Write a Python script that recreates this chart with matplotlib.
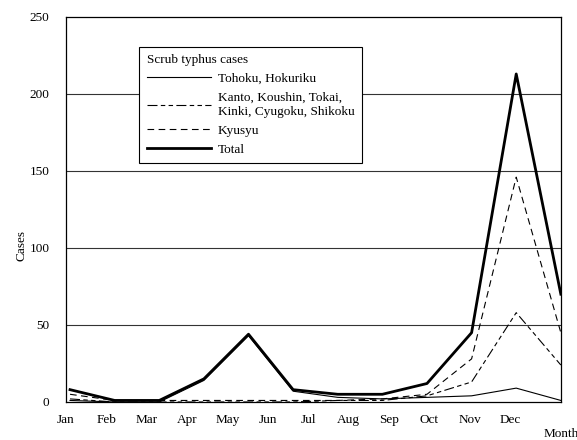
import numpy as np
import matplotlib
matplotlib.use("Agg")
import matplotlib.pyplot as plt

plt.rcParams['font.family'] = ['Liberation Serif', 'DejaVu Serif']
plt.rcParams['font.size'] = 9.5

months = ["Jan", "Feb", "Mar", "Apr", "May", "Jun",
          "Jul", "Aug", "Sep", "Oct", "Nov", "Dec"]

# monthly cases by region
tohoku = [1, 0, 0, 14, 43, 7, 3, 2, 3, 4, 9, 1]
kanto = [2, 0, 0, 0, 0, 0, 1, 1, 4, 13, 58, 24]
kyusyu = [5, 1, 1, 1, 1, 1, 1, 2, 5, 28, 146, 45]
total = [8, 1, 1, 15, 44, 8, 5, 5, 12, 45, 213, 70]

x = np.arange(len(months))

fig = plt.figure(figsize=(5.77, 4.40), dpi=100)
ax = fig.add_axes([0.1144, 0.0864, 0.8576, 0.875])

for yv in [50, 100, 150, 200]:
    ax.axhline(yv, color='#333333', lw=0.8, zorder=1)

ax.plot(x, tohoku, color='black', lw=0.8, label='Tohoku, Hokuriku', zorder=3)
ax.plot(x, kanto, color='black', lw=0.8, dashes=(9, 3, 4, 3, 4, 3),
        label='Kanto, Koushin, Tokai,\nKinki, Cyugoku, Shikoku', zorder=3)
ax.plot(x, kyusyu, color='black', lw=0.8, dashes=(6, 4), label='Kyusyu', zorder=3)
ax.plot(x, total, color='black', lw=2.0, label='Total', zorder=4)

ax.set_xlim(0, 11)
ax.set_ylim(0, 250)
ax.set_yticks([0, 50, 100, 150, 200, 250])
ax.tick_params(axis='y', length=0, pad=12)

# month labels sit on their own spacing under the axis
ax.set_xticks(np.arange(12) * 0.905 - 0.09)
ax.set_xticklabels(months)
ax.tick_params(axis='x', length=0, pad=9)

for s in ax.spines.values():
    s.set_color('black')
    s.set_linewidth(0.9)

fig.text(0.038, 0.443, 'Cases', rotation=90, ha='center', va='center')
fig.text(0.972, 0.0, 'Month', ha='center', va='bottom')

leg = ax.legend(title='Scrub typhus cases', loc='upper left',
                bbox_to_anchor=(0.148, 0.922), borderaxespad=0,
                handlelength=4.9, handletextpad=0.5,
                alignment='left', fancybox=False, edgecolor='black',
                framealpha=1, borderpad=0.55, labelspacing=0.5)
leg.get_frame().set_linewidth(0.8)
for t in leg.get_texts():
    t.set_linespacing(1.25)

fig.savefig('out.png', dpi=100)
